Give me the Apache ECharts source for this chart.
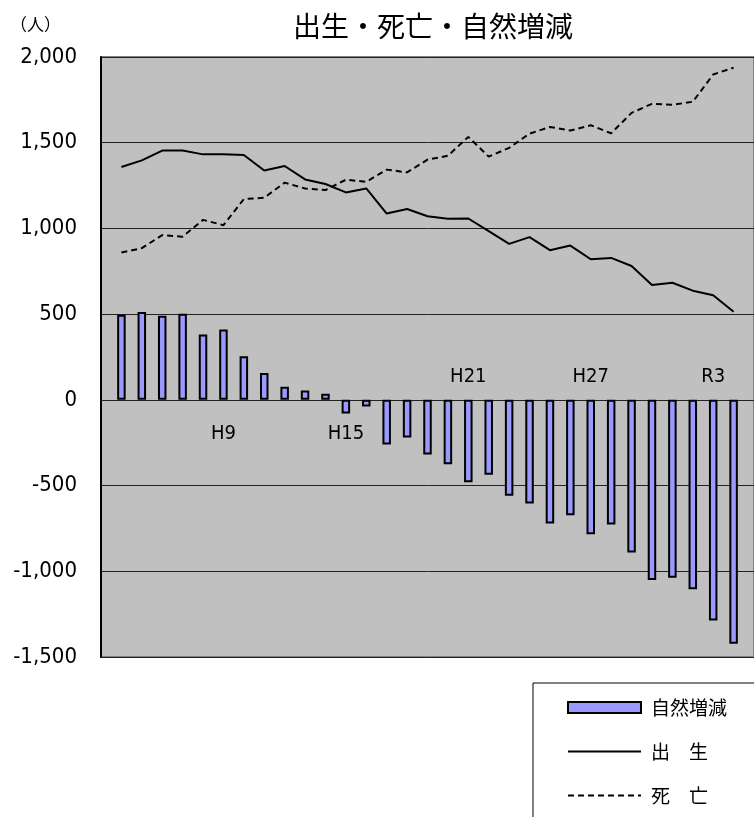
<!DOCTYPE html>
<html><head><meta charset="utf-8">
<script src="https://cdn.jsdelivr.net/npm/echarts@6/dist/echarts.min.js"></script>
<style>html,body{margin:0;padding:0;background:#fff}#c{width:754px;height:817px}</style>
</head><body><div id="c"></div>
<script>
const categories = ['H4','H5','H6','H7','H8','H9','H10','H11','H12','H13','H14','H15','H16','H17','H18','H19','H20','H21','H22','H23','H24','H25','H26','H27','H28','H29','H30','R1','R2','R3','R4'];
const naturalChange = [497, 513, 490, 502, 381, 410, 254, 156, 76, 54, 35, -80, -39, -260, -219, -319, -376, -480, -437, -559, -604, -721, -673, -784, -727, -891, -1051, -1037, -1105, -1287, -1422];
const births = [1358, 1397, 1454, 1454, 1432, 1432, 1428, 1338, 1364, 1286, 1259, 1210, 1233, 1087, 1113, 1071, 1056, 1058, 984, 910, 949, 873, 900, 820, 828, 781, 670, 683, 637, 610, 514];
const deaths = [859, 885, 961, 952, 1050, 1019, 1171, 1179, 1267, 1233, 1224, 1284, 1272, 1343, 1327, 1401, 1424, 1534, 1419, 1470, 1553, 1592, 1571, 1602, 1555, 1674, 1727, 1721, 1739, 1898, 1938];
const bottomLabels = ['H9', 'H15'];
const topLabels = ['H21', 'H27', 'R3'];
const yMin = -1500, yMax = 2000, yStep = 500;
const seriesNames = ['自然増減', '出　生', '死　亡'];

const axisCats = [''].concat(categories, ['']);
const pad = a => [null].concat(a);
const CJK = '"Noto Sans CJK JP", sans-serif';
const NARROW = '"Liberation Sans Narrow", "DejaVu Sans Condensed", "Liberation Sans", sans-serif';

// grid geometry and where value 0 falls inside it
const gridTop = 57, gridHeight = 600;
const zeroFromTop = gridHeight * (yMax - 0) / (yMax - yMin);
const zeroFromBottom = gridHeight - zeroFromTop;

const chart = echarts.init(document.getElementById('c'), null, {renderer: 'canvas'});
chart.setOption({
  animation: false,
  backgroundColor: '#ffffff',
  title: [
    {text: '出生・死亡・自然増減', left: 288, top: 7,
     textStyle: {fontFamily: CJK, fontSize: 28, fontWeight: 'normal', color: '#000'}},
    {text: '（人）', left: 5, top: 11,
     textStyle: {fontFamily: CJK, fontSize: 17, fontWeight: 'normal', color: '#000'}}
  ],
  grid: {left: 101, top: gridTop, width: 665.6, height: gridHeight, show: true,
         backgroundColor: '#C0C0C0', borderColor: '#808080', borderWidth: 2},
  legend: {
    orient: 'vertical', left: 533, top: 683, height: 170,
    data: [{name: seriesNames[0], icon: 'rect'},
           {name: seriesNames[1], itemStyle: {opacity: 0}},
           {name: seriesNames[2], itemStyle: {opacity: 0}}],
    itemWidth: 73, itemHeight: 11, itemGap: 25,
    padding: [15, 40, 40, 34],
    borderColor: '#000', borderWidth: 1, backgroundColor: '#fff',
    textStyle: {fontFamily: CJK, fontSize: 19, color: '#000', padding: [0, 0, 0, 5]}
  },
  xAxis: [
    {type: 'category', data: axisCats, boundaryGap: false, position: 'bottom',
     offset: -zeroFromBottom,
     axisLine: {onZero: false, lineStyle: {color: '#222', width: 1}},
     axisTick: {show: false},
     axisLabel: {interval: (i, v) => bottomLabels.includes(v), margin: 24,
                 fontFamily: NARROW, fontSize: 20, color: '#000'},
     splitLine: {show: false}},
    {type: 'category', data: axisCats, boundaryGap: false, position: 'top',
     offset: -zeroFromTop,
     axisLine: {show: false, onZero: false},
     axisTick: {show: false},
     axisLabel: {interval: (i, v) => topLabels.includes(v), margin: 13,
                 fontFamily: NARROW, fontSize: 20, color: '#000'},
     splitLine: {show: false}}
  ],
  yAxis: {
    type: 'value', min: yMin, max: yMax, interval: yStep,
    axisLine: {show: true, onZero: false, lineStyle: {color: '#000', width: 2}},
    axisTick: {show: false},
    axisLabel: {margin: 24, fontFamily: NARROW, fontSize: 22, color: '#000',
                formatter: v => v.toLocaleString('en-US')},
    splitLine: {lineStyle: {color: '#222', width: 1}}
  },
  series: [
    {name: seriesNames[0], type: 'bar', xAxisIndex: 0, data: pad(naturalChange),
     barWidth: 8.5, itemStyle: {color: '#9999FF', borderColor: '#000', borderWidth: 2}},
    {name: seriesNames[1], type: 'line', xAxisIndex: 0, data: pad(births),
     symbol: 'none', lineStyle: {color: '#000', width: 2}, itemStyle: {color: '#000'}},
    {name: seriesNames[2], type: 'line', xAxisIndex: 0, data: pad(deaths),
     symbol: 'none', lineStyle: {color: '#000', width: 2, type: [6, 4]}, itemStyle: {color: '#000'}}
  ]
});
</script>
</body></html>
